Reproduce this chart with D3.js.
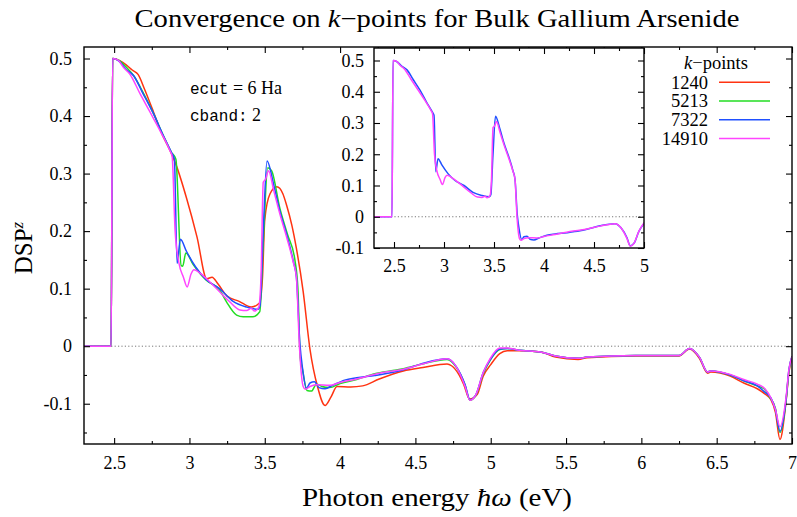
<!DOCTYPE html>
<html><head><meta charset="utf-8">
<script src="https://cdn.jsdelivr.net/npm/d3@7"></script>
<style>body{margin:0;background:#fff}svg{display:block}
svg text{font-family:'Liberation Serif','Times New Roman',serif}</style>
</head><body>
<svg id="c" width="797" height="517"></svg>
<script>
// ---- data ----
const energy1240 = [2.3,2.48,2.49,2.54,2.58,2.62,2.66,2.70,2.76,2.81,2.88,2.91,2.98,3.05,3.115,3.15,3.19,3.25,3.33,3.41,3.465,3.485,3.50,3.535,3.58,3.62,3.645,3.68,3.71,3.755,3.80,3.85,3.90,3.94,3.98,4.07,4.15,4.26,4.42,4.55,4.71,4.74,4.79,4.82,4.86,4.91,4.95,5.0,5.06,5.11,5.19,5.33,5.43,5.58,5.64,5.96,6.25,6.32,6.385,6.44,6.46,6.59,6.68,6.77,6.82,6.86,6.89,6.92,6.96,6.98,7.0];
const dsp1240 = [0,0,0.5,0.496,0.489,0.48,0.472,0.448,0.408,0.373,0.335,0.316,0.258,0.19,0.117,0.12,0.108,0.087,0.078,0.068,0.075,0.12,0.22,0.265,0.277,0.265,0.245,0.21,0.17,0.095,-0.005,-0.07,-0.103,-0.088,-0.07,-0.071,-0.069,-0.057,-0.043,-0.037,-0.031,-0.034,-0.05,-0.066,-0.092,-0.084,-0.052,-0.032,-0.013,-0.008,-0.008,-0.010,-0.019,-0.023,-0.02,-0.017,-0.017,-0.005,-0.021,-0.047,-0.045,-0.052,-0.064,-0.074,-0.083,-0.093,-0.115,-0.162,-0.097,-0.045,-0.02];

const energy5213 = [2.3,2.48,2.49,2.53,2.58,2.63,2.69,2.76,2.825,2.88,2.91,2.945,2.955,2.976,3.025,3.11,3.2,3.246,3.313,3.357,3.42,3.467,3.49,3.52,3.545,3.60,3.65,3.70,3.72,3.735,3.75,3.78,3.81,3.843,3.88,3.93,4.0,4.11,4.23,4.36,4.42,4.56,4.71,4.77,4.83,4.862,4.90,4.95,4.995,5.06,5.11,5.19,5.33,5.43,5.58,5.64,5.96,6.25,6.32,6.385,6.44,6.46,6.59,6.68,6.77,6.82,6.85,6.89,6.92,6.96,6.98,7.0];
const dsp5213 = [0,0,0.5,0.497,0.485,0.47,0.442,0.405,0.367,0.337,0.325,0.14,0.139,0.162,0.142,0.115,0.098,0.077,0.054,0.051,0.051,0.06,0.18,0.31,0.305,0.24,0.195,0.15,0.10,-0.02,-0.04,-0.077,-0.078,-0.066,-0.07,-0.072,-0.065,-0.058,-0.048,-0.042,-0.039,-0.03,-0.023,-0.036,-0.068,-0.094,-0.086,-0.048,-0.025,-0.006,-0.004,-0.007,-0.010,-0.017,-0.021,-0.019,-0.016,-0.016,-0.004,-0.019,-0.045,-0.043,-0.050,-0.060,-0.069,-0.075,-0.088,-0.108,-0.15,-0.096,-0.042,-0.018];

const energy7322 = [2.3,2.48,2.49,2.53,2.58,2.63,2.69,2.76,2.825,2.88,2.90,2.918,2.94,2.98,3.04,3.11,3.2,3.29,3.38,3.455,3.468,3.49,3.515,3.56,3.60,3.65,3.69,3.71,3.733,3.75,3.777,3.80,3.83,3.86,3.90,3.95,4.03,4.11,4.23,4.36,4.42,4.56,4.71,4.77,4.83,4.862,4.90,4.95,4.995,5.06,5.11,5.19,5.33,5.43,5.58,5.64,5.96,6.25,6.32,6.385,6.44,6.46,6.59,6.68,6.77,6.82,6.86,6.89,6.92,6.96,6.98,7.0];
const dsp7322 = [0,0,0.5,0.496,0.481,0.47,0.44,0.405,0.367,0.337,0.325,0.144,0.186,0.165,0.138,0.116,0.10,0.078,0.068,0.064,0.07,0.2,0.322,0.28,0.235,0.19,0.147,0.12,0.005,-0.037,-0.073,-0.064,-0.062,-0.072,-0.074,-0.068,-0.059,-0.055,-0.051,-0.045,-0.041,-0.029,-0.022,-0.035,-0.067,-0.093,-0.085,-0.046,-0.024,-0.005,-0.004,-0.007,-0.010,-0.017,-0.021,-0.019,-0.016,-0.016,-0.004,-0.019,-0.045,-0.043,-0.050,-0.060,-0.069,-0.08,-0.09,-0.11,-0.148,-0.094,-0.040,-0.018];

const energy14910 = [2.3,2.48,2.49,2.527,2.56,2.604,2.67,2.736,2.814,2.87,2.885,2.905,2.93,2.96,2.985,3.01,3.03,3.07,3.157,3.268,3.335,3.38,3.41,3.43,3.46,3.475,3.49,3.505,3.525,3.56,3.60,3.65,3.69,3.71,3.73,3.755,3.77,3.80,3.843,3.93,4.0,4.11,4.26,4.42,4.56,4.71,4.77,4.83,4.862,4.90,4.95,4.995,5.06,5.11,5.19,5.33,5.43,5.58,5.64,5.96,6.25,6.32,6.385,6.44,6.46,6.59,6.68,6.77,6.82,6.86,6.89,6.92,6.96,6.98,7.0];
const dsp14910 = [0,0,0.5,0.497,0.485,0.473,0.44,0.408,0.37,0.34,0.33,0.2,0.145,0.12,0.103,0.125,0.133,0.127,0.106,0.077,0.063,0.062,0.066,0.061,0.068,0.12,0.285,0.29,0.305,0.27,0.23,0.185,0.145,0.12,0.0,-0.07,-0.075,-0.07,-0.067,-0.068,-0.063,-0.057,-0.047,-0.04,-0.03,-0.022,-0.035,-0.07,-0.094,-0.085,-0.046,-0.022,-0.003,-0.003,-0.007,-0.010,-0.017,-0.021,-0.019,-0.016,-0.016,-0.004,-0.019,-0.045,-0.043,-0.049,-0.058,-0.066,-0.074,-0.09,-0.11,-0.14,-0.09,-0.04,-0.018];

const kpointLabels = ["1240","5213","7322","14910"];
const xTicksMain = [2.5,3,3.5,4,4.5,5,5.5,6,6.5,7];
const xMinorMain = [2.75,3.25,3.75,4.25,4.75,5.25,5.75,6.25,6.75];
const yTicks = [-0.1,0,0.1,0.2,0.3,0.4,0.5];
const yMinorMain = [-0.15,-0.05,0.05,0.15,0.25,0.35,0.45];
const xTicksInset = [2.5,3,3.5,4,4.5,5];
const xMinorInset = [2.75,3.25,3.75,4.25,4.75];
const yMinorInset = [-0.05,0.05,0.15,0.25,0.35,0.45];

// ---- build ----
const allSeries = [
  {label: kpointLabels[0], xs: energy1240, ys: dsp1240, color: "#ff3311"},
  {label: kpointLabels[1], xs: energy5213, ys: dsp5213, color: "#22dd22"},
  {label: kpointLabels[2], xs: energy7322, ys: dsp7322, color: "#2050ff"},
  {label: kpointLabels[3], xs: energy14910, ys: dsp14910, color: "#ff44ff"}
].map(s => ({...s, pts: s.xs.map((x,i) => [x, s.ys[i]])}));

const svg = d3.select("#c");
const SERIF = "'Liberation Serif','Times New Roman',serif";
const MONO = "'Liberation Mono','DejaVu Sans Mono',monospace";

function panel(g, x, y, opt) {
  const [x0,x1] = x.range(), [y0,y1] = y.range();
  const id = opt.id;
  svg.append("clipPath").attr("id", id).append("rect")
    .attr("x", x0).attr("y", y1).attr("width", x1-x0).attr("height", y0-y1);
  g.append("rect").attr("x", x0).attr("y", y1).attr("width", x1-x0).attr("height", y0-y1).attr("fill", "#fff");
  g.append("line").attr("x1", x0).attr("x2", x1).attr("y1", y(0)).attr("y2", y(0))
    .attr("stroke", "#777").attr("stroke-width", 1).attr("stroke-dasharray", "1.2,2.2");
  const line = d3.line().x(d => x(d[0])).y(d => y(d[1])).curve(d3.curveMonotoneX);
  const pg = g.append("g").attr("clip-path", `url(#${id})`);
  opt.series.forEach(s => {
    pg.append("path").attr("d", line(s.pts)).attr("fill", "none")
      .attr("stroke", s.color).attr("stroke-width", 1.5).attr("stroke-linejoin", "round");
  });
  const fmt = d => String(d);
  const styleAx = a => {
    a.attr("font-family", SERIF).attr("font-size", opt.fs);
    a.select(".domain").remove();
    a.selectAll("line").attr("stroke", "#000").attr("stroke-width", 1.1);
    a.selectAll("text").attr("font-family", SERIF).attr("font-size", opt.fs).attr("fill", "#000")
      .style("font-family", SERIF);
  };
  g.append("g").attr("transform", `translate(0,${y0})`)
    .call(d3.axisBottom(x).tickValues(opt.xt).tickSize(-6).tickPadding(opt.xpad).tickFormat(fmt)).call(styleAx);
  g.append("g").attr("transform", `translate(0,${y0})`)
    .call(d3.axisBottom(x).tickValues(opt.xm).tickSize(-3).tickFormat("")).call(styleAx);
  g.append("g").attr("transform", `translate(0,${y1})`)
    .call(d3.axisTop(x).tickValues(opt.xt).tickSize(-6).tickFormat("")).call(styleAx);
  g.append("g").attr("transform", `translate(0,${y1})`)
    .call(d3.axisTop(x).tickValues(opt.xm).tickSize(-3).tickFormat("")).call(styleAx);
  g.append("g").attr("transform", `translate(${x0},0)`)
    .call(d3.axisLeft(y).tickValues(opt.yt).tickSize(-6).tickPadding(opt.ypad).tickFormat(fmt)).call(styleAx);
  g.append("g").attr("transform", `translate(${x0},0)`)
    .call(d3.axisLeft(y).tickValues(opt.ym).tickSize(-3).tickFormat("")).call(styleAx);
  g.append("g").attr("transform", `translate(${x1},0)`)
    .call(d3.axisRight(y).tickValues(opt.yt).tickSize(-6).tickFormat("")).call(styleAx);
  g.append("g").attr("transform", `translate(${x1},0)`)
    .call(d3.axisRight(y).tickValues(opt.ym).tickSize(-3).tickFormat("")).call(styleAx);
  g.append("rect").attr("x", x0).attr("y", y1).attr("width", x1-x0).attr("height", y0-y1)
    .attr("fill", "none").attr("stroke", "#000").attr("stroke-width", 1.4);
}

const xMain = d3.scaleLinear().domain([2.3, 7]).range([84, 792]);
const yMain = d3.scaleLinear().domain([-0.17, 0.52]).range([444, 47]);
panel(svg.append("g"), xMain, yMain, {id: "clipMain", series: allSeries, xt: xTicksMain, xm: xMinorMain,
  yt: yTicks, ym: yMinorMain, xpad: 12, ypad: 12, fs: 18});

const xIn = d3.scaleLinear().domain([2.3, 5]).range([374, 644]);
const yIn = d3.scaleLinear().domain([-0.1, 0.54]).range([248, 48]);
panel(svg.append("g"), xIn, yIn, {id: "clipInset", series: allSeries.slice(2), xt: xTicksInset, xm: xMinorInset,
  yt: yTicks, ym: yMinorInset, xpad: 11, ypad: 10, fs: 18});

const t = svg.append("text").attr("x", 437).attr("y", 27).attr("text-anchor", "middle")
  .attr("font-family", SERIF).attr("font-size", 25).attr("textLength", 605).attr("lengthAdjust", "spacingAndGlyphs");
t.append("tspan").text("Convergence on ");
t.append("tspan").attr("font-style", "italic").text("k");
t.append("tspan").text("\u2212points for Bulk Gallium Arsenide");

const xl = svg.append("text").attr("x", 437).attr("y", 506).attr("text-anchor", "middle")
  .attr("font-family", SERIF).attr("font-size", 26).attr("textLength", 270).attr("lengthAdjust", "spacingAndGlyphs");
xl.append("tspan").text("Photon energy ");
xl.append("tspan").attr("font-style", "italic").text("\u0127\u03C9");
xl.append("tspan").text(" (eV)");

const yl = svg.append("text").attr("transform", "translate(32,248) rotate(-90)").attr("text-anchor", "middle")
  .attr("font-family", SERIF).attr("font-size", 25);
yl.append("tspan").text("DSP");
yl.append("tspan").attr("font-style", "italic").attr("font-size", 17).attr("dy", -9).text("z");

const a1 = svg.append("text").attr("x", 190).attr("y", 94).attr("font-size", 18).attr("font-family", SERIF);
a1.append("tspan").style("font-family", MONO).attr("font-size", 16).text("ecut");
a1.append("tspan").text(" = 6 Ha");
const a2 = svg.append("text").attr("x", 190).attr("y", 121).attr("font-size", 18).attr("font-family", SERIF);
a2.append("tspan").style("font-family", MONO).attr("font-size", 16).text("cband:");
a2.append("tspan").text(" 2");

const lg = svg.append("g").attr("font-family", SERIF).attr("font-size", 18.5);
const lt = lg.append("text").attr("x", 716).attr("y", 69).attr("text-anchor", "middle");
lt.append("tspan").attr("font-style", "italic").text("k");
lt.append("tspan").text("\u2212points");
allSeries.forEach((s, i) => {
  const yy = 82.3 + i * 18.7;
  lg.append("text").attr("x", 708).attr("y", yy + 6.3).attr("text-anchor", "end").text(s.label);
  lg.append("line").attr("x1", 719).attr("x2", 770).attr("y1", yy).attr("y2", yy)
    .attr("stroke", s.color).attr("stroke-width", 1.5);
});
</script>
</body></html>
